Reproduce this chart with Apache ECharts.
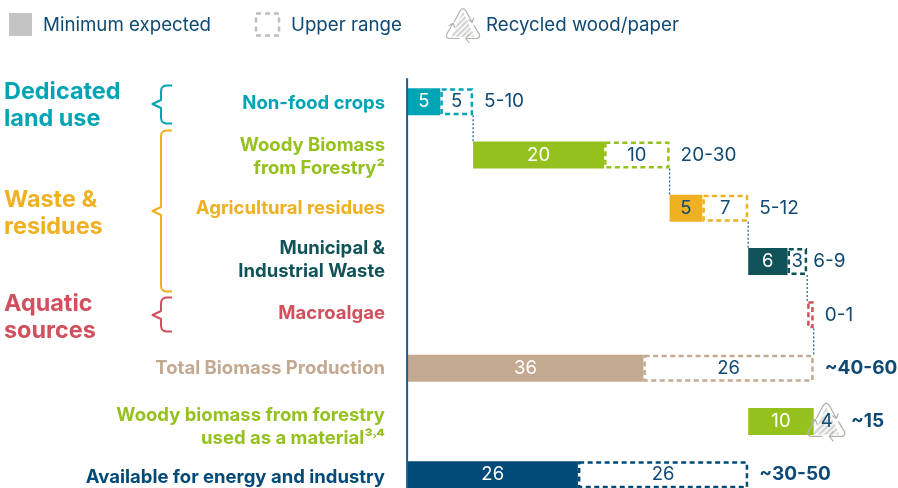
<!DOCTYPE html>
<html>
<head>
<meta charset="utf-8">
<script src="https://cdn.jsdelivr.net/npm/echarts@6/dist/echarts.min.js"></script>
<style>
  html, body { margin: 0; padding: 0; background: #fff; }
  #chart { width: 898px; height: 488px; }
</style>
</head>
<body>
<div id="chart"></div>
<script>
  // data
  const categories = [
    "Non-food crops",
    "Woody Biomass\nfrom Forestry²",
    "Agricultural residues",
    "Municipal &\nIndustrial Waste",
    "Macroalgae",
    "Total Biomass Production",
    "Woody biomass from forestry\nused as a material³˒⁴",
    "Available for energy and industry"
  ];
  const offsets = [0, 10, 40, 52, 61, 0, 52, 0];
  const minimumExpected = [5, 20, 5, 6, 0, 36, 10, 26];
  const upperRange = [5, 10, 7, 3, 1, 26, 4, 26];
  const rangeLabels = ["5-10", "20-30", "5-12", "6-9", "0-1", "~40-60", "~15", "~30-50"];
  const boldRanges = [5, 6, 7];
  const rowColors = ["#00a5b5", "#95c11f", "#efb022", "#0f5257", "#d0505d", "#c4a991", "#95c11f", "#004a77"];
  // x value, row it leaves, row it reaches
  const connectors = [[10, 0, 1], [40, 1, 2], [52, 2, 3], [61, 3, 4], [62, 4, 5]];

  const NAVY = "#0e4a75";
  const FONT = "Inter";
  const BAR_H = 27;
  // the row labels do not sit exactly on the bar centres, a blank line of this height pushes them
  const labelSpacerAbove = [4, 4, 0, 0, 0, 0, 11, 6];
  const labelSpacerBelow = [0, 0, 0, 3, 2, 0, 0, 0];

  function hatchPattern() {
    const c = document.createElement("canvas");
    c.width = c.height = 6;
    const g = c.getContext("2d");
    g.strokeStyle = "#d2d2d2";
    g.lineWidth = 2.5;
    g.beginPath();
    g.moveTo(-1, 7); g.lineTo(7, -1);
    g.moveTo(-4, 4); g.lineTo(4, -4);
    g.moveTo(2, 10); g.lineTo(10, 2);
    g.stroke();
    return { image: c, repeat: "repeat" };
  }
  const hatch = hatchPattern();

  // recycling triangle, used in the legend and on the wood/paper bar
  function recycleIcon(x, y, s) {
    const line = { stroke: "#b4b2a8", lineWidth: 1.3, fill: "none", lineJoin: "round" };
    const arcs = [
      [[-10, -3], [-3, -16], [-1, -18], [1, -18], [3, -16], [10, -3]],
      [[6, -6], [10, -3], [12, -8]],
      [[12, 0], [18, 10], [18.5, 13], [16, 15], [3, 15]],
      [[7, 10], [3, 15], [7, 20]],
      [[-4, 15], [-16, 15], [-18.5, 13], [-18, 10], [-11, -2]],
      [[-16, 1], [-11, -2], [-9, 3]]
    ];
    const children = [{
      type: "polygon",
      shape: { points: [[0, -15], [13, 13], [-13, 13]] },
      style: { fill: hatch }
    }];
    arcs.forEach(function (p) {
      children.push({ type: "polyline", shape: { points: p }, style: line });
    });
    return { type: "group", x: x, y: y, scaleX: s, scaleY: s, children: children, silent: true };
  }

  function brace(top, tip, bot, color) {
    return {
      type: "polyline",
      shape: { points: [
        [172, top], [166, top], [163, top + 1], [161.5, top + 3], [161, top + 6],
        [161, tip - 4], [152.5, tip], [161, tip + 4],
        [161, bot - 6], [161.5, bot - 3], [163, bot - 1], [166, bot], [172, bot]
      ] },
      style: { stroke: color, lineWidth: 2, fill: "none", lineJoin: "round" }
    };
  }

  function groupTitle(text, y, color) {
    return {
      type: "text", x: 4, y: y,
      style: { text: text, fill: color, font: "700 23.4px " + FONT, lineHeight: 27.5, textVerticalAlign: "top" }
    };
  }

  function legendText(text, x) {
    return {
      type: "text", x: x, y: 25,
      style: { text: text, fill: NAVY, font: "400 18.7px " + FONT, textVerticalAlign: "middle" }
    };
  }

  let labelRich = {};
  [2, 3, 4, 6, 11].forEach(function (h) {
    labelRich["s" + h] = { fontSize: 1, lineHeight: h };
  });

  let myChart = echarts.init(document.getElementById("chart"));
  let option = {
    animation: false,
    backgroundColor: "#fff",
    textStyle: { fontFamily: FONT },
    grid: { left: 407.6, top: 75, width: 491.25, height: 426.4, containLabel: false, outerBoundsMode: "none" },
    xAxis: { type: "value", min: 0, max: 75, show: false },
    yAxis: {
      type: "category",
      inverse: true,
      data: categories,
      axisLine: { show: false },
      axisTick: { show: false },
      axisLabel: {
        margin: 22.6,
        fontSize: 18.5,
        fontWeight: 700,
        fontFamily: FONT,
        lineHeight: 23,
        align: "right",
        rich: labelRich,
        color: function (value, index) { return rowColors[index]; },
        formatter: function (value, index) {
          let s = value;
          if (labelSpacerAbove[index]) s = "{s" + labelSpacerAbove[index] + "|\u200b}\n" + s;
          if (labelSpacerBelow[index]) s = s + "\n{s" + labelSpacerBelow[index] + "|\u200b}";
          return s;
        }
      }
    },
    graphic: [
      { type: "rect", shape: { x: 9, y: 13, width: 23, height: 23 }, style: { fill: "#c4c4c4" } },
      legendText("Minimum expected", 43),
      { type: "rect", shape: { x: 256, y: 13.5, width: 23, height: 22 }, style: { fill: "none", stroke: "#bdbdbd", lineWidth: 2.5, lineDash: [5, 4] } },
      legendText("Upper range", 291),
      recycleIcon(463, 25, 0.9),
      legendText("Recycled wood/paper", 486),
      groupTitle("Dedicated\nland use", 78, "#00a5b5"),
      groupTitle("Waste &\nresidues", 186, "#efb022"),
      groupTitle("Aquatic\nsources", 290, "#d0505d"),
      brace(85.5, 104, 123.5, "#00a5b5"),
      brace(130.5, 211, 291.5, "#efb022"),
      brace(297.5, 315, 331.5, "#d0505d")
    ],
    series: [
      {
        name: "Spine",
        type: "custom",
        coordinateSystem: "cartesian2d",
        silent: true,
        clip: false,
        z: 5,
        data: [[0, 0]],
        renderItem: function (params, api) {
          const p = api.coord([api.value(0), api.value(1)]);
          return {
            type: "line",
            shape: { x1: p[0] - 0.5, y1: p[1] - 23.5, x2: p[0] - 0.5, y2: api.getHeight() },
            style: { stroke: "#1a5f8c", lineWidth: 2 }
          };
        }
      },
      {
        name: "Connectors",
        type: "custom",
        coordinateSystem: "cartesian2d",
        silent: true,
        clip: false,
        z: 1,
        data: connectors,
        renderItem: function (params, api) {
          const a = api.coord([api.value(0), api.value(1)]);
          const b = api.coord([api.value(0), api.value(2)]);
          return {
            type: "line",
            shape: { x1: a[0], y1: a[1] + BAR_H / 2, x2: b[0], y2: b[1] - BAR_H / 2 },
            style: { stroke: "#2c6a90", lineWidth: 1.3, lineDash: [2, 2] }
          };
        }
      },
      {
        name: "Offset",
        type: "bar",
        stack: "a",
        silent: true,
        barWidth: BAR_H,
        itemStyle: { color: "transparent" },
        data: offsets
      },
      {
        name: "Minimum expected",
        type: "bar",
        stack: "a",
        barWidth: BAR_H,
        z: 3,
        label: { show: true, position: "inside", fontSize: 18.5, fontFamily: FONT, color: "#fff" },
        data: minimumExpected.map(function (v, i) {
          return {
            value: v,
            itemStyle: { color: rowColors[i] },
            label: { show: v > 0, color: i === 2 ? NAVY : "#fff" }
          };
        })
      },
      {
        name: "Upper range",
        type: "bar",
        stack: "a",
        barWidth: BAR_H,
        z: 4,
        label: { show: true, position: "inside", fontSize: 18.5, fontFamily: FONT, color: NAVY },
        data: upperRange.map(function (v, i) {
          // the wood/paper part is the recycling icon, not a dashed box
          if (i === 6) {
            return { value: v, itemStyle: { color: "transparent", borderWidth: 0 } };
          }
          return {
            value: v,
            label: { show: v > 1 },
            itemStyle: { color: "#fff", borderColor: rowColors[i], borderWidth: 2.5, borderType: [5, 3.5] }
          };
        })
      },
      {
        name: "Recycled wood/paper",
        type: "custom",
        coordinateSystem: "cartesian2d",
        silent: true,
        clip: false,
        z: 3.5,
        data: [[offsets[6] + minimumExpected[6] + upperRange[6] / 2, 6]],
        renderItem: function (params, api) {
          const p = api.coord([api.value(0), api.value(1)]);
          return recycleIcon(p[0] - 0.5, p[1], 1);
        }
      },
      {
        name: "Range",
        type: "scatter",
        symbolSize: 0,
        silent: true,
        z: 6,
        itemStyle: { opacity: 1 },
        data: rangeLabels.map(function (t, i) {
          return {
            value: [offsets[i] + minimumExpected[i] + upperRange[i], i],
            label: {
              show: true,
              position: "right",
              distance: i === 3 ? 6 : 11,
              formatter: t,
              fontSize: 19,
              fontFamily: FONT,
              fontWeight: boldRanges.indexOf(i) >= 0 ? 700 : 400,
              color: NAVY
            }
          };
        })
      }
    ]
  };
  myChart.setOption(option);
</script>
</body>
</html>
